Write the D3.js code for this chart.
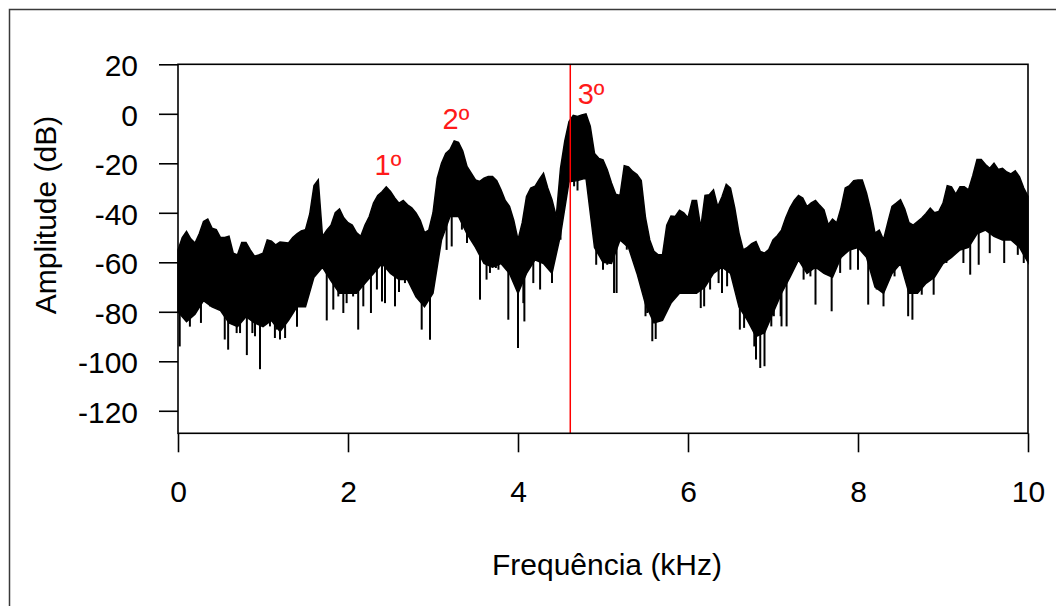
<!DOCTYPE html>
<html>
<head>
<meta charset="utf-8">
<script src="https://cdn.jsdelivr.net/npm/d3@7"></script>
<style>
  body { margin: 0; background: #fff; }
  svg { display: block; }
  text { font-family: Arial, "Liberation Sans", sans-serif; }
</style>
</head>
<body>
<svg id="chart" width="1056" height="606"></svg>
<script>
// Upper edge of the spectrum band, sampled every 0.05 kHz (dB)
const upperFreqKHz = d3.range(201).map(i => i / 20);
const upperDb = [
  -55, -50, -47.5, -50.5, -52.2, -48.5, -43.5, -42.5, -46.2, -46.8,
  -50, -50, -49.5, -56.3, -57, -52, -52, -55, -57.5, -57,
  -56.3, -51, -51.5, -53, -51.8, -52, -52.2, -50, -48.5, -47.3,
  -46.8, -40.5, -29, -26.7, -49.5, -47, -45, -40, -38.5, -42,
  -44, -45, -48, -49.5, -45, -41.5, -36.1, -33, -31.5, -29.5,
  -31.4, -34, -36.1, -35, -36.8, -38, -40.1, -43, -48, -47,
  -40, -26, -20, -16, -14.5, -11, -11.5, -15, -21.3, -24,
  -26.7, -27.3, -26, -25.3, -25.3, -27, -30.7, -35, -37.4, -43,
  -50.9, -44, -33.4, -30, -29.3, -26.5, -24, -30, -34.7, -41.5,
  -22, -11, -3.1, -0.6, -1.1, -0.5, 0, -5, -16, -18,
  -18.6, -22.6, -28, -32.5, -33, -21, -21.5, -23.3, -24.5, -27,
  -42, -51, -55.6, -57, -57, -45, -41.3, -41.5, -39, -40,
  -42, -35, -35, -46, -33, -32.7, -30.7, -37.5, -33.5, -28.5,
  -30, -38, -48.2, -55, -54, -52.5, -51.6, -55.6, -56.3, -54.9,
  -51, -49.3, -47, -42, -38, -35, -33, -34, -37.5, -36,
  -35, -37, -38.8, -44.8, -42.5, -44, -38, -30, -29, -27,
  -26.7, -26.7, -32, -39, -48.2, -47, -50.9, -44, -37.4, -36.1,
  -34.7, -38.5, -44, -45, -43.5, -42.1, -40.3, -38.1, -40, -39.5,
  -36.1, -29, -29.5, -32.5, -29.5, -29.5, -30.7, -25, -18.5, -18.5,
  -20.5, -22, -20, -22.5, -22, -23.5, -24.3, -23, -25.5, -30,
  -33.4
];

// Lower edge of the dense part of the band, sampled every 0.1 kHz (dB)
const lowerFreqKHz = d3.range(101).map(i => i / 10);
const lowerDb = [
  -80, -84, -81, -75.5, -78, -79.5, -84.5, -86, -82, -84.5,
  -86, -83.5, -88, -83.5, -78, -78, -66, -62, -67.5, -72.5,
  -72.5, -72.5, -68.5, -64.5, -60.5, -64.5, -67, -67, -74, -78,
  -72.5, -51, -41.5, -41.5, -48.5, -54, -60.5, -62, -60.5, -64.5,
  -72.5, -64.5, -59, -60.5, -64.5, -49, -27.5, -27, -26, -54,
  -60, -60.5, -51, -54, -64.5, -77, -84.5, -83.5, -76.5, -72.5,
  -72.5, -72.5, -70, -64.5, -62, -64.5, -78, -83.5, -90, -88.5,
  -80.5, -72.5, -66, -59, -64.5, -62, -64.5, -66, -58, -55,
  -54, -58, -70, -72.5, -64.5, -60.5, -72.5, -72.5, -68.5, -66,
  -60.5, -58, -55, -54, -48.5, -47, -49.5, -51, -51, -54,
  -60
];

// Narrow downward dips below the band
const dipFreqKHz = [
  0.02, 0.043, 0.12, 0.14, 0.2, 0.27, 0.318, 0.376, 0.435, 0.494,
  0.55, 0.59, 0.651, 0.69, 0.73, 0.81, 0.867, 0.875, 0.906, 0.965,
  1.024, 1.082, 1.14, 1.16, 1.2, 1.26, 1.298, 1.4, 1.455, 1.514,
  1.592, 1.65, 1.75, 1.827, 1.886, 1.945, 1.984, 2.06, 2.12, 2.18,
  2.27, 2.34, 2.4, 2.435, 2.553, 2.6, 2.67, 2.867, 2.965, 3.1,
  3.16, 3.22, 3.34, 3.4, 3.553, 3.63, 3.67, 3.74, 3.77, 3.886,
  4.0, 4.063, 4.075, 4.18, 4.26, 4.4, 4.5, 4.53, 4.66, 4.7,
  4.92, 5.0, 5.05, 5.13, 5.16, 5.28, 5.45, 5.5, 5.52, 5.58,
  5.62, 5.7, 5.84, 5.92, 5.98, 6.03, 6.07, 6.15, 6.19, 6.26,
  6.36, 6.4, 6.46, 6.61, 6.66, 6.7, 6.75, 6.78, 6.8, 6.85,
  6.9, 6.98, 7.01, 7.09, 7.1, 7.16, 7.36, 7.44, 7.5, 7.59,
  7.69, 7.79, 7.91, 8.0, 8.12, 8.22, 8.3, 8.43, 8.59, 8.64,
  8.75, 8.89, 9.04, 9.16, 9.24, 9.32, 9.42, 9.55, 9.63, 9.72,
  9.88, 9.95
];
const dipDb = [
  -94, -77.8, -81.8, -86, -80.5, -84.5, -71, -77.8, -73.8, -73.8,
  -91.2, -95.3, -84.5, -88.6, -88.6, -97.5, -77.8, -88.6, -89.9, -103.2,
  -84.5, -85.9, -90.6, -87.2, -91.2, -90.6, -81.8, -86, -77.8, -73.8,
  -64.3, -60.3, -83.5, -79.1, -73.8, -80.5, -76.5, -73.8, -87.2, -77.8,
  -80.5, -71, -75.8, -76.5, -77.8, -72, -68.4, -87.2, -91.3, -46.8,
  -55, -53.6, -46.8, -52.2, -75.1, -67, -64.3, -62.3, -63, -83.2,
  -94.6, -76.5, -83.9, -68.4, -71, -68.4, -50.9, -40.1, -29.3, -31,
  -61, -63, -61, -72.4, -72.4, -54.9, -67, -81.8, -80.5, -91.9,
  -91, -81.8, -65.7, -68.4, -71, -71, -72.4, -78.5, -77.8, -71,
  -68.4, -72.4, -69.7, -87.2, -86.5, -81.8, -83.2, -94, -99.3, -102.7,
  -102, -85.9, -81.8, -81.8, -85.9, -85.9, -67, -65.7, -77.1, -61.6,
  -79.8, -64.3, -63, -63, -77.1, -71, -77.8, -65.7, -81.8, -83.2,
  -73.1, -73.1, -60.3, -52.2, -60.3, -65, -61, -56.3, -49.5, -60.3,
  -57, -60.3
];

// Axis ticks
const xTicks = [0, 2, 4, 6, 8, 10];
const yTicks = [20, 0, -20, -40, -60, -80, -100, -120];

// Harmonic markers
const harmonicLabels = ["1º", "2º", "3º"];
const harmonicFreqKHz = [2.47, 3.27, 4.86];
const harmonicDb = [-20.5, -2, 8];
const markerFreqKHz = 4.615;

const svg = d3.select("#chart");
const W = 1056, H = 606;
const plotL = 178, plotR = 1028, plotT = 64.3, plotB = 433.3;

const x = d3.scaleLinear().domain([0, 10]).range([plotL, plotR]);
const y = d3.scaleLinear().domain([-129.1, 20]).range([plotB, plotT]);

// Outer figure frame
svg.append("path")
  .attr("d", `M9.5,${H} V9.5 H${W}`)
  .attr("fill", "none").attr("stroke", "#3a3a3a").attr("stroke-width", 1.5);

// Spectrum band: upper edge left to right, then lower edge back
const outline = upperFreqKHz.map((f, i) => [f, upperDb[i]])
  .concat(lowerFreqKHz.map((f, i) => [f, lowerDb[i]]).reverse());
const edge = d3.line().x(d => x(d[0])).y(d => y(d[1]));
svg.append("path")
  .attr("d", edge(outline) + "Z")
  .attr("fill", "#000")
  .attr("stroke", "#000")
  .attr("stroke-width", 1.5)
  .attr("stroke-linejoin", "miter");

// Narrow dips drawn down from inside the band
const lowerAt = d3.scaleLinear().domain(lowerFreqKHz).range(lowerDb);
svg.append("g").selectAll("line")
  .data(dipFreqKHz.map((f, i) => ({ f, v: dipDb[i] })))
  .join("line")
  .attr("x1", d => x(d.f)).attr("x2", d => x(d.f))
  .attr("y1", d => y(Math.max(lowerAt(d.f), d.v) + 4))
  .attr("y2", d => y(d.v))
  .attr("stroke", "#000").attr("stroke-width", 2);

// Marker line at the third harmonic
svg.append("line")
  .attr("x1", x(markerFreqKHz)).attr("x2", x(markerFreqKHz))
  .attr("y1", plotT).attr("y2", plotB)
  .attr("stroke", "#ff0000").attr("stroke-width", 1.5);

// Harmonic labels
svg.append("g").selectAll("text")
  .data(harmonicLabels.map((t, i) => ({ t, f: harmonicFreqKHz[i], v: harmonicDb[i] })))
  .join("text")
  .attr("x", d => x(d.f))
  .attr("y", d => y(d.v))
  .attr("text-anchor", "middle")
  .attr("dominant-baseline", "central")
  .attr("font-size", 29)
  .attr("fill", "#ff1a1a")
  .text(d => d.t);

// Plot box
svg.append("rect")
  .attr("x", plotL).attr("y", plotT)
  .attr("width", plotR - plotL).attr("height", plotB - plotT)
  .attr("fill", "none").attr("stroke", "#000").attr("stroke-width", 1.6);

// Y axis (plain hyphen for negative numbers)
const yAxis = d3.axisLeft(y).tickValues(yTicks).tickSize(19).tickPadding(21)
  .tickFormat(d => String(d));
const gy = svg.append("g").attr("transform", `translate(${plotL},0)`).call(yAxis);
gy.select(".domain").remove();
gy.selectAll(".tick line").attr("stroke", "#000").attr("stroke-width", 1.6);
gy.selectAll(".tick text").attr("font-size", 30).attr("fill", "#000")
  .attr("font-family", "Arial, 'Liberation Sans', sans-serif").attr("dy", "0.38em");

// X axis
const xAxis = d3.axisBottom(x).tickValues(xTicks).tickSize(19).tickPadding(28)
  .tickFormat(d => String(d));
const gx = svg.append("g").attr("transform", `translate(0,${plotB})`).call(xAxis);
gx.select(".domain").remove();
gx.selectAll(".tick line").attr("stroke", "#000").attr("stroke-width", 1.6);
gx.selectAll(".tick text").attr("font-size", 30).attr("fill", "#000")
  .attr("font-family", "Arial, 'Liberation Sans', sans-serif");

// Axis titles
svg.append("text")
  .attr("x", 607).attr("y", 575)
  .attr("text-anchor", "middle").attr("font-size", 30).attr("fill", "#000")
  .text("Frequência (kHz)");
svg.append("text")
  .attr("transform", "translate(56,215) rotate(-90)")
  .attr("text-anchor", "middle").attr("font-size", 30).attr("fill", "#000")
  .text("Amplitude (dB)");
</script>
</body>
</html>
